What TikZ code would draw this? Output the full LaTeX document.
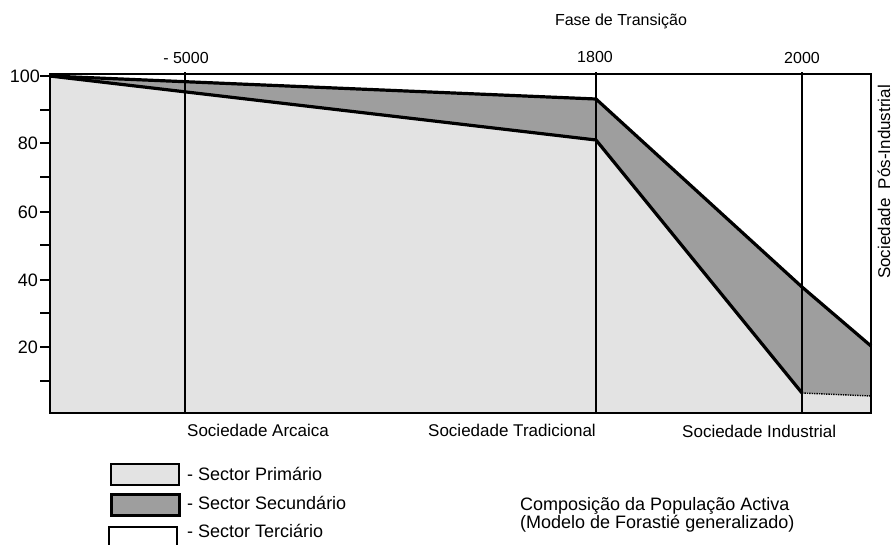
\documentclass[tikz,border=0pt]{standalone}
\usepackage{fontspec}
\setmainfont{Liberation Sans}
\usepackage{tikz}
\definecolor{prim}{gray}{0.89}
\definecolor{sec}{gray}{0.62}

\begin{document}
\begin{tikzpicture}[x=1pt,y=-1pt,
  lab/.style={inner sep=0pt,font=\fontsize{16}{18}\selectfont},
  axl/.style={inner sep=0pt,anchor=east,font=\fontsize{18}{20}\selectfont},
  soc/.style={inner sep=0pt,font=\fontsize{17}{19}\selectfont},
  leg/.style={inner sep=0pt,anchor=west,font=\fontsize{18}{18}\selectfont},
  edge/.style={line width=3.2pt,line join=round},
  frame/.style={line width=2.3pt}]
  \useasboundingbox (0,0) rectangle (893,544);

  \fill[prim] (50,76) -- (596,140) -- (802,393) -- (871,396) -- (871,413) -- (50,413) -- cycle;
  \fill[sec] (50,76) -- (596,99) -- (802,287) -- (871,346) -- (871,396) -- (802,393) -- (596,140) -- cycle;
  \draw[densely dotted,line width=1.4pt] (802,393) -- (871,396);
  \draw[edge] (50,76) -- (596,140) -- (802,393);
  \draw[edge] (50,76) -- (596,99) -- (802,287) -- (871,346);

  \draw[frame] (50,74) rectangle (871,413);
  \draw[frame] (185,72) -- (185,413);
  \draw[frame] (596,72) -- (596,413);
  \draw[frame] (802,72) -- (802,413);

  \draw[frame] (40,76) -- (50,76);
  \draw[frame] (40,110) -- (50,110);
  \draw[frame] (40,143) -- (50,143);
  \draw[frame] (40,177) -- (50,177);
  \draw[frame] (40,212) -- (50,212);
  \draw[frame] (40,245) -- (50,245);
  \draw[frame] (40,280) -- (50,280);
  \draw[frame] (40,313) -- (50,313);
  \draw[frame] (40,347) -- (50,347);
  \draw[frame] (40,381) -- (50,381);

  \node[axl] (y100) at (40,76) {100};
  \node[axl] (y80) at (38,143) {80};
  \node[axl] (y60) at (38,212) {60};
  \node[axl] (y40) at (38,280) {40};
  \node[axl] (y20) at (38,347) {20};

  \node[lab] (fase) at (621,21) {Fase de Transição};
  \node[lab] (t5000) at (186,58) {- 5000};
  \node[lab] (t1800) at (595,57) {1800};
  \node[lab] (t2000) at (802,58) {2000};

  \node[soc,anchor=west] (arc) at (187,430) {Sociedade Arcaica};
  \node[soc,anchor=west] (trad) at (428,430) {Sociedade Tradicional};
  \node[soc,anchor=west] (ind) at (682,431) {Sociedade Industrial};
  \node[soc,rotate=90] (pos) at (884,182) {Sociedade\ \ Pós-Industrial};

  \draw[line width=2.6pt,fill=prim] (111,464) rectangle (179,485);
  \draw[line width=3pt,fill=sec] (111,494) rectangle (179,515);
  \draw[line width=2.6pt,fill=white] (109,527) rectangle (177,548);
  \node[leg] (prim) at (187,474) {- Sector Primário};
  \node[leg] (sec) at (187,503) {- Sector Secundário};
  \node[leg] (ter) at (187,531) {- Sector Terciário};

  \node[leg,align=left] (comp) at (520,515) {Composição da População Activa\\(Modelo de Forastié generalizado)};
\end{tikzpicture}
\end{document}
